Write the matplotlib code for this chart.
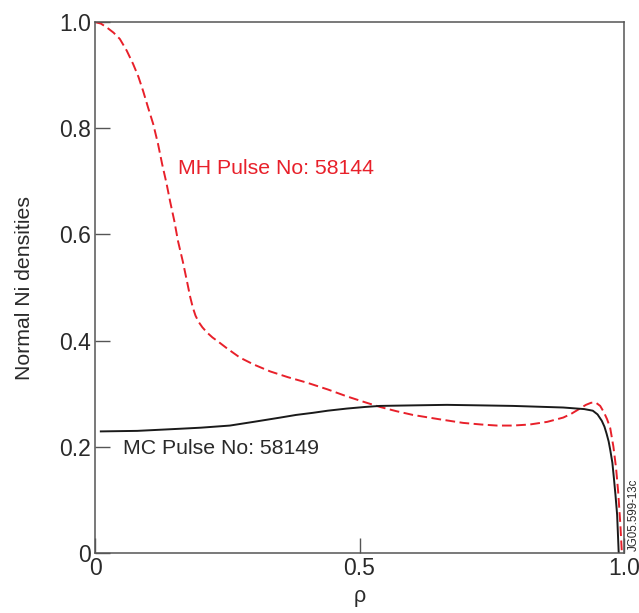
import numpy as np
import matplotlib.pyplot as plt

plt.rcParams['font.family'] = ['Liberation Sans', 'DejaVu Sans']

# MH pulse 58144 (red dashed)
rho_mh = [0.0, 0.011, 0.022, 0.035, 0.047, 0.06, 0.072, 0.082, 0.091, 0.10, 0.110,
          0.119, 0.127, 0.135, 0.142, 0.15, 0.157, 0.166, 0.174, 0.18, 0.185,
          0.19, 0.196, 0.203, 0.212, 0.222, 0.233, 0.25, 0.274, 0.30, 0.331,
          0.365, 0.40, 0.44, 0.476, 0.51, 0.539, 0.57, 0.601, 0.65, 0.696, 0.73,
          0.76, 0.79, 0.822, 0.855, 0.885, 0.90, 0.915, 0.928, 0.938, 0.947,
          0.955, 0.962, 0.968, 0.974, 0.98, 0.985, 0.989, 0.993, 0.996]
ni_mh = [1.0, 0.997, 0.990, 0.980, 0.968, 0.946, 0.921, 0.897, 0.870, 0.840, 0.808,
         0.771, 0.732, 0.697, 0.662, 0.625, 0.587, 0.549, 0.511, 0.482, 0.462,
         0.447, 0.435, 0.425, 0.415, 0.406, 0.398, 0.385, 0.368, 0.355, 0.342,
         0.331, 0.321, 0.308, 0.295, 0.284, 0.275, 0.267, 0.260, 0.252, 0.245, 0.242,
         0.240, 0.240, 0.242, 0.247, 0.255, 0.262, 0.271, 0.279, 0.283, 0.283,
         0.277, 0.265, 0.252, 0.235, 0.2, 0.16, 0.115, 0.055, 0.0]

# MC pulse 58149 (black solid)
rho_mc = [0.011, 0.08, 0.161, 0.2, 0.255, 0.3, 0.35, 0.38, 0.412, 0.44, 0.476,
          0.51, 0.539, 0.60, 0.665, 0.73, 0.79, 0.885, 0.925, 0.941, 0.95, 0.958,
          0.963, 0.967, 0.971, 0.974, 0.978, 0.981, 0.984, 0.987, 0.99]
ni_mc = [0.229, 0.230, 0.234, 0.236, 0.240, 0.247, 0.255, 0.260, 0.264, 0.268, 0.272,
         0.275, 0.277, 0.278, 0.279, 0.278, 0.277, 0.274, 0.271, 0.268, 0.261, 0.249,
         0.238, 0.225, 0.21, 0.194, 0.17, 0.14, 0.108, 0.072, 0.0]

fig = plt.figure(figsize=(6.39, 6.13), dpi=100)
ax = fig.add_axes([95/639, 1 - 553/613, 529/639, 531/613])

ax.plot(rho_mh, ni_mh, color='#e8202a', linestyle='--', linewidth=1.4, dashes=(5, 2.3))
ax.plot(rho_mc, ni_mc, color='#1a1a1a', linestyle='-', linewidth=1.4)

ax.set_xlim(0, 1.0)
ax.set_ylim(0, 1.0)
ax.set_xticks([0, 0.5, 1.0])
ax.set_xticklabels(['0', '0.5', '1.0'])
ax.set_yticks([0, 0.2, 0.4, 0.6, 0.8, 1.0])
ax.set_yticklabels(['0', '0.2', '0.4', '0.6', '0.8', '1.0'])
ax.tick_params(direction='in', length=11, width=1, colors='#555555',
               labelcolor='#2a2a2a', labelsize=16.5, pad=3)
for s in ax.spines.values():
    s.set_color('#555555')
    s.set_linewidth(1.1)

ax.set_xlabel('ρ', fontsize=15.5, color='#2a2a2a', labelpad=4)
ax.set_ylabel('Normal Ni densities', fontsize=15.3, color='#2a2a2a', labelpad=18)

ax.text(0.157, 0.725, 'MH Pulse No: 58144', color='#e8202a', fontsize=15.3,
        va='center', ha='left')
ax.text(0.052, 0.196, 'MC Pulse No: 58149', color='#2a2a2a', fontsize=15.3,
        va='center', ha='left')
fig.text(634/639, 1 - 515/613, 'JG05.599-13c', rotation=90, fontsize=8.3,
         color='#2a2a2a', ha='center', va='center')

fig.savefig('out.png', dpi=100)
